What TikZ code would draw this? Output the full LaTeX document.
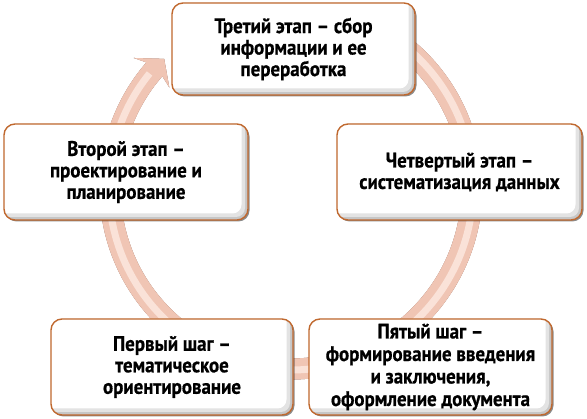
\documentclass[tikz,border=0pt]{standalone}
\usepackage{fontspec}
\newfontfamily\boxfont{PT Sans}[FakeStretch=0.9, BoldFeatures={FakeBold=0.6}]
\usetikzlibrary{calc,shadows}
\definecolor{boxorange}{HTML}{C0682E}
\definecolor{ringmain}{HTML}{F0C5B4}
\definecolor{ringlight}{HTML}{FAE2D8}
\definecolor{ringshadow}{HTML}{745A56}
\definecolor{ringedge}{HTML}{D3A391}
\tikzset{
  stagebox/.style={rounded corners=11, draw=boxorange, line width=1.4pt, fill=white,
    align=center, inner sep=0pt, font=\boxfont\bfseries\fontsize{21}{21.5}\selectfont,
    drop shadow={shadow xshift=1.5pt, shadow yshift=-1.5pt, opacity=0.45, fill=black},
    path picture={
      \fill[gray!45] (path picture bounding box.south west) rectangle (path picture bounding box.north east);
      \fill[gray!22, rounded corners=9] ($(path picture bounding box.north west)+(-6,-6)$) rectangle ($(path picture bounding box.south east)+(-3,-3)$);
      \fill[white, rounded corners=9] ($(path picture bounding box.north west)+(-6,-6)$) rectangle ($(path picture bounding box.south east)+(-6.5,-6.5)$);
    }}
}
\def\ringpath{($(c)+(-60:191.5)$) arc[start angle=-60,end angle=221,radius=191.5]
  -- ($(c)+(219.6:204)$) -- ($(c)+(225.5:181)$) -- ($(c)+(219.6:158)$)
  -- ($(c)+(221:170.5)$) arc[start angle=221,end angle=-60,radius=170.5] -- cycle}
\begin{document}
\begin{tikzpicture}[x=1pt,y=-1pt]
\useasboundingbox[fill=white] (0,0) rectangle (587,419);
\coordinate (c) at (291,188);
% ring shadow
\begin{scope}[shift={(3,3)}]
  \fill[ringshadow] \ringpath;
\end{scope}
\fill[ringedge] \ringpath;
\begin{scope}[shift={(-1,-1)}]
  \fill[ringmain] \ringpath;
\end{scope}
\draw[ringlight, line width=7pt] ($(c)+(-60:182)$) arc[start angle=-60,end angle=219,radius=182];
% boxes
\node[stagebox, minimum width=243, minimum height=92] (t3) at (293.5,49)
  {Третий этап – сбор\\информации и ее\\переработка};
\node[stagebox, minimum width=244, minimum height=96] (t2) at (126,172)
  {Второй этап –\\проектирование и\\планирование};
\node[stagebox, minimum width=245, minimum height=96] (t4) at (459.5,172)
  {Четвертый этап –\\систематизация данных};
\node[stagebox, minimum width=242, minimum height=96] (t1) at (172,367)
  {Первый шаг –\\тематическое\\ориентирование};
\node[stagebox, minimum width=243, minimum height=96, font=\boxfont\bfseries\fontsize{21}{22.5}\selectfont] (t5) at (430.5,367)
  {Пятый шаг –\\формирование введения\\и заключения,\\оформление документа};
\end{tikzpicture}
\end{document}
